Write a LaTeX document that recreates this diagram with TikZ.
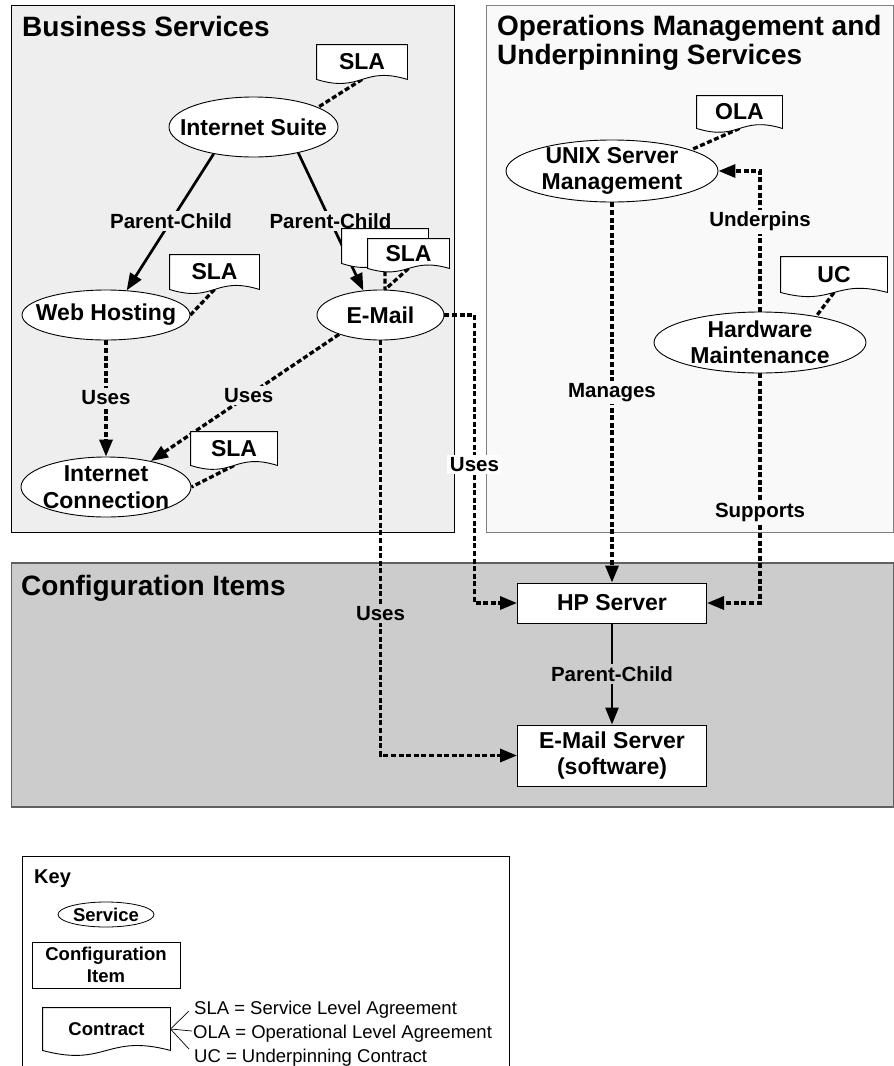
\documentclass[tikz,border=0pt]{standalone}
\usepackage{fontspec}
\setmainfont{Liberation Sans}
\usetikzlibrary{shapes.geometric,arrows.meta,calc}

% Contract / document shape: rectangle with a wavy bottom edge
\makeatletter
\newdimen\cdXa \newdimen\cdXb \newdimen\cdXm
\newdimen\cdYa \newdimen\cdYb \newdimen\cdW
\newdimen\cdYu \newdimen\cdYl
\pgfdeclareshape{contractdoc}{
  \inheritsavedanchors[from=rectangle]
  \inheritanchorborder[from=rectangle]
  \inheritanchor[from=rectangle]{center}
  \inheritanchor[from=rectangle]{mid}
  \inheritanchor[from=rectangle]{base}
  \inheritanchor[from=rectangle]{north}
  \inheritanchor[from=rectangle]{south}
  \inheritanchor[from=rectangle]{east}
  \inheritanchor[from=rectangle]{west}
  \inheritanchor[from=rectangle]{north east}
  \inheritanchor[from=rectangle]{north west}
  \inheritanchor[from=rectangle]{south east}
  \inheritanchor[from=rectangle]{south west}
  \inheritanchor[from=rectangle]{mid west}
  \inheritanchor[from=rectangle]{mid east}
  \inheritanchor[from=rectangle]{base west}
  \inheritanchor[from=rectangle]{base east}
  \anchor{text}{\pgfpointorigin}
  \backgroundpath{%
    \southwest \cdXa=\pgf@x \cdYa=\pgf@y
    \northeast \cdXb=\pgf@x \cdYb=\pgf@y
    \cdXm=\cdXa \advance\cdXm by \cdXb \cdXm=0.5\cdXm
    \cdW=\cdYb \advance\cdW by -\cdYa \cdW=0.4\cdW
    \cdYu=\cdYa \advance\cdYu by \cdW
    \cdYl=\cdYa \advance\cdYl by -\cdW
    \pgfpathmoveto{\pgfqpoint{\cdXa}{\cdYb}}%
    \pgfpathlineto{\pgfqpoint{\cdXb}{\cdYb}}%
    \pgfpathlineto{\pgfqpoint{\cdXb}{\cdYa}}%
    \pgfpathcurveto{\pgfqpoint{\cdXm}{\cdYu}}{\pgfqpoint{\cdXm}{\cdYl}}{\pgfqpoint{\cdXa}{\cdYa}}%
    \pgfpathclose
  }
}
\makeatother

\definecolor{bizfill}{HTML}{EEEEEE}
\definecolor{opsfill}{HTML}{F9F9F9}
\definecolor{opsline}{HTML}{808080}
\definecolor{cifill}{HTML}{CCCCCC}
\definecolor{ciline}{HTML}{606060}

\newcommand\ttlfnt{\bfseries\fontsize{28}{29}\selectfont}
\newcommand\svcfnt{\bfseries\fontsize{23}{26.5}\selectfont}
\newcommand\lblfnt{\bfseries\fontsize{20.5}{24}\selectfont}
\newcommand\keyfnt{\bfseries\fontsize{18.5}{22}\selectfont}
\newcommand\keytxtfnt{\fontsize{18.5}{22}\selectfont}

\pgfdeclarelayer{regions}
\pgfdeclarelayer{links}
\pgfsetlayers{regions,links,main}

\tikzset{
  region/.style={line width=1pt},
  ttl/.style={font=\ttlfnt, inner sep=0pt},
  svc/.style={ellipse, draw, fill=white, line width=0.9pt, inner sep=0pt},
  svctxt/.style={font=\svcfnt, align=center, inner sep=0pt},
  ci/.style={rectangle, draw, fill=white, line width=1pt, align=center, font=\svcfnt, inner sep=0pt},
  doc/.style={shape=contractdoc, draw, fill=white, line width=0.9pt, font=\svcfnt, inner sep=0pt},
  dep/.style={line width=3.3pt, dash pattern=on 5pt off 2.6pt},
  rel/.style={line width=2.7pt},
  arrowed/.style={-{Triangle[length=17pt,width=13pt]}},
  lbl/.style={font=\lblfnt, inner sep=2.5pt},
  keyline/.style={line width=0.7pt},
  keytxt/.style={font=\keytxtfnt, inner sep=0pt},
}

\begin{document}
\begin{tikzpicture}[x=1pt,y=-1pt]
\useasboundingbox (0,0) rectangle (894,1066);

% ---- regions ----
\begin{pgfonlayer}{regions}
  \clip (0,0) rectangle (894,1066);
  \fill[white] (0,0) rectangle (894,1066);
  \draw[region, fill=bizfill] (11.5,5.5) rectangle (454,532.5);
  \draw[region, draw=opsline, fill=opsfill] (486,5.5) rectangle (893.5,532);
  \draw[region, draw=ciline, fill=cifill, line width=1.3pt] (11.5,563) rectangle (893.5,807);
  \draw[region] (22,856) rectangle (509,1090);
\end{pgfonlayer}

\node[ttl, anchor=base west] (bizttl) at (22,36.5) {Business Services};
\node[ttl, anchor=north west, align=left] (opsttl) at (497,15) {Operations Management and\\Underpinning Services};
\node[ttl, anchor=base west] (cittl) at (21,595) {Configuration Items};

% ---- services ----
\node[svc, minimum width=169pt, minimum height=60pt, label={[svctxt]center:Internet Suite}] (isuite) at (253.5,127) {};
\node[svc, minimum width=168pt, minimum height=50pt, label={[svctxt]center:Web Hosting}] (wh) at (106,315) {};
\node[svc, minimum width=127pt, minimum height=50pt, label={[svctxt]center:E-Mail}] (em) at (380.5,315) {};
\node[svc, minimum width=170pt, minimum height=60pt, label={[svctxt]center:Internet\\Connection}] (ic) at (106,487) {};
\node[svc, minimum width=212pt, minimum height=62pt, label={[svctxt]center:UNIX Server\\Management}] (unix) at (612,171) {};
\node[svc, minimum width=212pt, minimum height=61pt, label={[svctxt]center:Hardware\\Maintenance}] (hw) at (760,342.5) {};

% ---- configuration items ----
\node[ci, minimum width=189pt, minimum height=40pt] (hp) at (612,603) {HP Server};
\node[ci, minimum width=189pt, minimum height=61pt] (es) at (612,755.5) {E-Mail Server\\(software)};

% ---- contracts ----
\node[doc, minimum width=90pt, minimum height=34pt] (slaTop) at (362,62) {SLA};
\node[doc, minimum width=89pt, minimum height=34pt] (slaWeb) at (214.5,272) {SLA};
\node[doc, minimum width=86pt, minimum height=34pt] (slaMailB) at (385,246) {};
\node[doc, minimum width=81pt, minimum height=29pt] (slaMail) at (408.5,253.5) {SLA};
\node[doc, minimum width=86pt, minimum height=33pt] (slaIC) at (234,448.5) {SLA};
\node[doc, minimum width=85pt, minimum height=32pt] (ola) at (739.5,112) {OLA};
\node[doc, minimum width=106pt, minimum height=35pt] (uc) at (834,274.5) {UC};

% ---- key ----
\node[font=\bfseries\fontsize{20}{24}\selectfont, inner sep=0pt, anchor=base west] (keyttl) at (34,883) {Key};
\node[svc, line width=0.8pt, minimum width=96pt, minimum height=25pt, label={[svctxt, font=\keyfnt]center:Service}] (keysvc) at (106,914.5) {};
\node[ci, font=\keyfnt, minimum width=148pt, minimum height=46pt] (keyci) at (106,965) {Configuration\\Item};
\node[doc, font=\keyfnt, minimum width=127pt, minimum height=42pt] (contract) at (106.5,1029) {Contract};
\node[keytxt, anchor=base west] (slakey) at (194,1014) {SLA = Service Level Agreement};
\node[keytxt, anchor=base west] (olakey) at (193,1038) {OLA = Operational Level Agreement};
\node[keytxt, anchor=base west] (uckey) at (194,1062) {UC = Underpinning Contract};

% ---- connectors ----
\begin{pgfonlayer}{links}
  \draw[dep] (slaTop.south) -- (isuite.17);
  \draw[rel, arrowed] (isuite.214) -- node[lbl, fill=bizfill, pos=0.49] {Parent-Child} (wh.50);
  \draw[rel, arrowed] (isuite.-30) -- node[lbl, fill=bizfill, pos=0.495] {Parent-Child} (em.125);
  \draw[dep] (slaWeb.south) -- (wh.east);
  \draw[dep] (slaMailB.south) -- (em.80);
  \draw[dep] (slaMail.south) -- (em.80);
  \draw[dep] (slaIC.south) -- (ic.east);
  \draw[dep, arrowed] (wh.south) -- node[lbl, fill=bizfill, pos=0.49] {Uses} (ic.north);
  \draw[dep, arrowed] (em.205) -- node[lbl, fill=bizfill, pos=0.48] {Uses} (ic.30);
  \draw[dep, arrowed] (em.east) -- ++(30,0) |- node[lbl, fill=white, pos=0.259] {Uses} (hp.west);
  \draw[dep, arrowed] (em.south) |- node[lbl, fill=cifill, pos=0.329] {Uses} (es.west);
  \draw[dep] (ola.south) -- (unix.15);
  \draw[dep] (uc.south) -- (hw.25);
  \draw[dep, arrowed] (unix.south) -- node[lbl, fill=opsfill] {Manages} (hp.north);
  \draw[dep, arrowed] (hw.north) |- node[lbl, fill=opsfill, pos=0.32] {Underpins} (unix.east);
  \draw[dep, arrowed] (hw.south) |- node[lbl, fill=opsfill, pos=0.303] {Supports} (hp.east);
  \draw[rel, arrowed] (hp.south) -- node[lbl, fill=cifill] {Parent-Child} (es.north);
  \draw[keyline] (contract.east) -- ([xshift=-5pt,yshift=3pt]slakey.base west);
  \draw[keyline] (contract.east) -- ([xshift=-1pt,yshift=7pt]olakey.base west);
  \draw[keyline] (contract.east) -- ([xshift=-5pt,yshift=13pt]uckey.base west);
\end{pgfonlayer}
\end{tikzpicture}
\end{document}
